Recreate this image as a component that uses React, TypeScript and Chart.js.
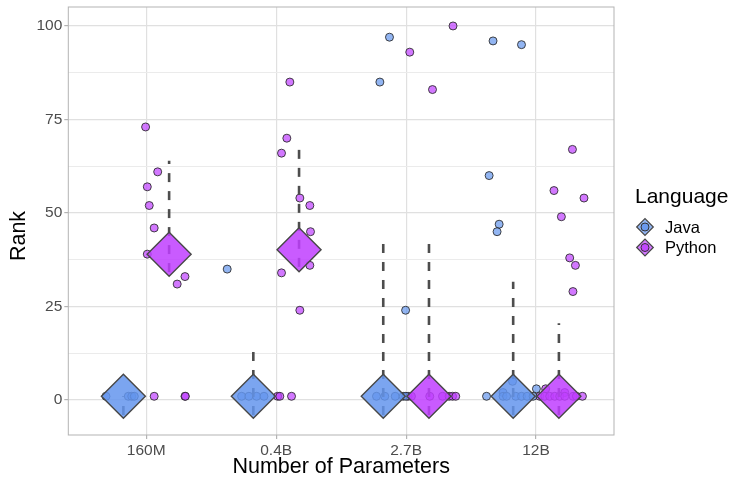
import React, { useEffect, useRef } from "react";
import { Chart, registerables } from "chart.js";

Chart.register(...registerables);

const categories = ["160M", "0.4B", "2.7B", "12B"];
const languages = ["Java", "Python"];
const yTickValues = [0, 12.5, 25, 37.5, 50, 62.5, 75, 87.5, 100];

// Individual ranks per category (jittered horizontally as in the picture)
const javaRanks = [
  [1, 1, 1, 1],
  [35, 1, 1, 1, 1],
  [97, 85, 24, 1, 1, 1, 1, 1],
  [96, 95, 60, 47, 45, 5, 3, 2, 1, 1, 1, 1, 1, 1, 1],
];
const javaJitter = [
  [-0.134, 0.038, 0.064, 0.084],
  [-0.201, -0.09, -0.034, 0.025, 0.082],
  [0.048, -0.026, 0.172, -0.052, 0.012, 0.092, 0.153, 0.174],
  [-0.155, 0.064, -0.185, -0.108, -0.124, -0.005, 0.179, -0.078, -0.205, -0.078, -0.051, 0.02, 0.064, 0.107, 0.153],
];
const pythonRanks = [
  [73, 61, 57, 52, 46, 39, 33, 31, 1, 1, 1],
  [85, 70, 66, 54, 52, 45, 36, 34, 24, 1, 1, 1],
  [100, 93, 83, 1, 1, 1, 1, 1, 1, 1],
  [67, 56, 54, 49, 38, 36, 29, 3, 2, 1, 1, 1, 1, 1, 1, 1, 1, 1],
];
const pythonJitter = [
  [-0.181, -0.088, -0.168, -0.153, -0.115, -0.168, 0.122, 0.062, -0.115, 0.122, 0.125],
  [-0.071, -0.094, -0.135, 0.006, 0.083, 0.088, 0.083, -0.135, 0.006, -0.165, -0.148, -0.058],
  [0.185, -0.148, 0.027, -0.161, -0.135, 0.006, 0.104, 0.155, 0.181, 0.206],
  [0.104, -0.038, 0.193, 0.019, 0.083, 0.127, 0.108, -0.102, 0.045, -0.148, -0.109, -0.071, -0.032, 0.006, 0.045, 0.109, 0.135, 0.181],
];

// Summary (diamond = median) and dashed range per category
const javaMedian = [1, 1, 1, 1];
const pythonMedian = [39, 40.2, 1, 1];
const javaLow = [-4, -4, -4, -4];
const javaHigh = [1, 15, 42.5, 31.6];
const pythonLow = [34.2, 35.6, -4, -4];
const pythonHigh = [64, 68.5, 42.5, 20.5];

const DODGE = 0.176;
const FONT = "'Liberation Sans', Arial, Helvetica, sans-serif";
const JAVA_FILL = "rgba(100,149,237,0.85)";
const PY_FILL = "rgba(191,62,255,0.85)";
const JAVA_PT = "rgba(100,149,237,0.7)";
const PY_PT = "rgba(191,62,255,0.7)";
const OUTLINE = "#474747";

function pts(ranks: number[][], jit: number[][], off: number) {
  const out: { x: number; y: number }[] = [];
  ranks.forEach((arr, i) =>
    arr.forEach((r, j) => out.push({ x: i + 1 + off + jit[i][j], y: r }))
  );
  return out;
}

const decorPlugin = {
  id: "decor",
  afterDatasetsDraw(chart: any) {
    const { ctx, chartArea: a } = chart;
    ctx.save();
    ctx.strokeStyle = "#b3b3b3";
    ctx.lineWidth = 1;
    ctx.strokeRect(a.left, a.top, a.right - a.left, a.bottom - a.top);
    ctx.restore();
  },
  afterDraw(chart: any) {
    const { ctx, chartArea: a } = chart;
    ctx.save();
    ctx.fillStyle = "#000";
    ctx.textAlign = "center";
    ctx.textBaseline = "middle";
    ctx.font = `21.5px ${FONT}`;
    ctx.fillText("Number of Parameters", (a.left + a.right) / 2, 467);
    ctx.save();
    ctx.translate(19, 236);
    ctx.rotate(-Math.PI / 2);
    ctx.fillText("Rank", 0, 0);
    ctx.restore();
    // legend
    ctx.textAlign = "left";
    ctx.font = `21px ${FONT}`;
    ctx.fillText("Language", 635, 197);
    ctx.font = `16.5px ${FONT}`;
    const fills = [JAVA_FILL, PY_FILL];
    const pf = [JAVA_PT, PY_PT];
    languages.forEach((lang, i) => {
      const cy = 227 + i * 20.5;
      const cx = 645;
      const r = 8.3;
      ctx.beginPath();
      ctx.moveTo(cx - r, cy);
      ctx.lineTo(cx, cy - r);
      ctx.lineTo(cx + r, cy);
      ctx.lineTo(cx, cy + r);
      ctx.closePath();
      ctx.fillStyle = "#fff";
      ctx.fill();
      ctx.fillStyle = pf[i];
      ctx.fill();
      ctx.strokeStyle = OUTLINE;
      ctx.lineWidth = 1.2;
      ctx.stroke();
      ctx.beginPath();
      ctx.arc(cx, cy, 4, 0, Math.PI * 2);
      ctx.fillStyle = fills[i];
      ctx.fill();
      ctx.strokeStyle = "#333";
      ctx.lineWidth = 1;
      ctx.stroke();
      ctx.fillStyle = "#000";
      ctx.fillText(lang, 665, cy + 1);
    });
    ctx.restore();
  },
};

export default function App() {
  const ref = useRef<HTMLCanvasElement | null>(null);
  useEffect(() => {
    if (!ref.current) return;
    const lineSets: any[] = [];
    const mk = (lows: number[], highs: number[], off: number) =>
      lows.forEach((lo, i) =>
        lineSets.push({
          type: "scatter",
          showLine: true,
          data: [
            { x: i + 1 + off, y: lo },
            { x: i + 1 + off, y: highs[i] },
          ],
          borderColor: "#4d4d4d",
          borderWidth: 2.6,
          borderDash: [9, 9],
          pointRadius: 0,
          order: 1,
        })
      );
    mk(javaLow, javaHigh, -DODGE);
    mk(pythonLow, pythonHigh, DODGE);

    const chart = new Chart(ref.current, {
      type: "scatter",
      data: {
        datasets: [
          {
            data: javaMedian.map((m, i) => ({ x: i + 1 - DODGE, y: m })),
            pointStyle: "rectRot",
            pointRadius: 22,
            backgroundColor: JAVA_FILL,
            borderColor: OUTLINE,
            borderWidth: 1.4,
            order: 0,
          },
          {
            data: pythonMedian.map((m, i) => ({ x: i + 1 + DODGE, y: m })),
            pointStyle: "rectRot",
            pointRadius: 22,
            backgroundColor: PY_FILL,
            borderColor: OUTLINE,
            borderWidth: 1.4,
            order: 0,
          },
          ...lineSets,
          {
            data: pts(javaRanks, javaJitter, -DODGE),
            pointRadius: 4,
            backgroundColor: JAVA_PT,
            borderColor: "rgba(40,40,40,0.85)",
            borderWidth: 1,
            order: 2,
          },
          {
            data: pts(pythonRanks, pythonJitter, DODGE),
            pointRadius: 4,
            backgroundColor: PY_PT,
            borderColor: "rgba(40,40,40,0.85)",
            borderWidth: 1,
            order: 2,
          },
        ] as any,
      },
      options: {
        animation: false,
        responsive: false,
        devicePixelRatio: 1,
        events: [],
        layout: { autoPadding: false, padding: { left: 0, right: 117, top: 7, bottom: 0 } },
        plugins: { legend: { display: false }, tooltip: { enabled: false } },
        scales: {
          x: {
            type: "linear",
            min: 0.4,
            max: 4.6,
            afterBuildTicks: (s: any) => {
              s.ticks = categories.map((_, i) => ({ value: i + 1 }));
            },
            afterFit: (s: any) => {
              s.height = 42;
              s.paddingLeft = 0;
              s.paddingRight = 0;
            },
            ticks: {
              autoSkip: false,
              maxRotation: 0,
              padding: 2,
              color: "#4d4d4d",
              font: { family: FONT, size: 15.5 },
              callback: (v: any) => categories[Math.round(Number(v)) - 1] ?? "",
            },
            grid: { color: "#e0e0e0", lineWidth: 1.2, tickLength: 4, tickColor: "#b3b3b3" },
            border: { display: false },
          },
          y: {
            type: "linear",
            min: -9.35,
            max: 105.07,
            afterBuildTicks: (s: any) => {
              s.ticks = yTickValues.map((v) => ({ value: v }));
            },
            afterFit: (s: any) => {
              s.width = 68.3;
              s.paddingTop = 0;
              s.paddingBottom = 0;
            },
            ticks: {
              autoSkip: false,
              padding: 2,
              color: "#4d4d4d",
              font: { family: FONT, size: 15.5 },
              callback: (v: any) => (Number(v) % 25 === 0 ? String(v) : ""),
            },
            grid: {
              color: (c: any) => (c.tick && c.tick.value % 25 === 0 ? "#e0e0e0" : "#ebebeb"),
              lineWidth: (c: any) => (c.tick && c.tick.value % 25 === 0 ? 1.2 : 1),
              tickLength: 4,
              tickColor: (c: any) => (c.tick && c.tick.value % 25 === 0 ? "#b3b3b3" : "rgba(0,0,0,0)"),
            },
            border: { display: false },
          },
        },
      },
      plugins: [decorPlugin],
    } as any);
    return () => chart.destroy();
  }, []);
  return (
    <div style={{ position: "fixed", left: 0, top: 0, width: 731, height: 477, background: "#fff" }}>
      <canvas ref={ref} width={731} height={477} />
    </div>
  );
}
